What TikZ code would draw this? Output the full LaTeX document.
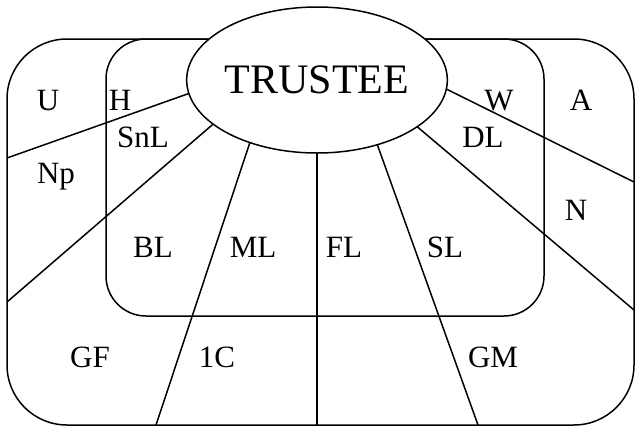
\documentclass[tikz,border=0pt]{standalone}
\usepackage{fontspec}
\setmainfont{Liberation Serif}
\usetikzlibrary{shapes.geometric}
\begin{document}
\begin{tikzpicture}[x=1pt,y=-1pt,
  ln/.style={line width=1.5pt},
  lbl/.style={anchor=base,inner sep=0pt,font=\fontsize{31}{31}\selectfont},
  bigell/.style={ellipse,draw,line width=1.5pt,fill=white,inner sep=0pt,outer sep=0pt,
     minimum width=260pt,minimum height=146pt,font=\fontsize{42}{42}\selectfont}]
\useasboundingbox[fill=white] (0,0) rectangle (635,426);
% regions
\draw[ln,rounded corners=60pt] (7,39) rectangle (634,425);
\draw[ln,rounded corners=40pt] (106,39) rectangle (544,316);
% trustee
\node[bigell] (tr) at (317,80) {TRUSTEE};
% free ends
\coordinate (e1) at (7,158);
\coordinate (e2) at (7,302);
\coordinate (e3) at (156,425);
\coordinate (e4) at (317,425);
\coordinate (e5) at (478,425);
\coordinate (e6) at (634,310);
\coordinate (e7) at (634,182);
\draw[ln] (tr.186) -- (e1);
\draw[ln] (tr.203.7) -- (e2);
\draw[ln] (tr.223.3) -- (e3);
\draw[ln] (tr.270) -- (e4);
\draw[ln] (tr.313.6) -- (e5);
\draw[ln] (tr.335.1) -- (e6);
\draw[ln] (tr.356.5) -- (e7);
% labels
\node[lbl] (U) at (48,110) {U};
\node[lbl] (H) at (120,110) {H};
\node[lbl] (SnL) at (143,147) {SnL};
\node[lbl] (Np) at (56,183) {Np};
\node[lbl] (BL) at (153,257) {BL};
\node[lbl] (ML) at (253,257) {ML};
\node[lbl] (FL) at (344,257) {FL};
\node[lbl] (SL) at (445,257) {SL};
\node[lbl] (GF) at (90,367) {GF};
\node[lbl] (C1) at (217,367) {1C};
\node[lbl] (GM) at (493,367) {GM};
\node[lbl] (W) at (499,110) {W};
\node[lbl] (A) at (581,110) {A};
\node[lbl] (DL) at (483,147) {DL};
\node[lbl] (N) at (576,220) {N};
\end{tikzpicture}
\end{document}
